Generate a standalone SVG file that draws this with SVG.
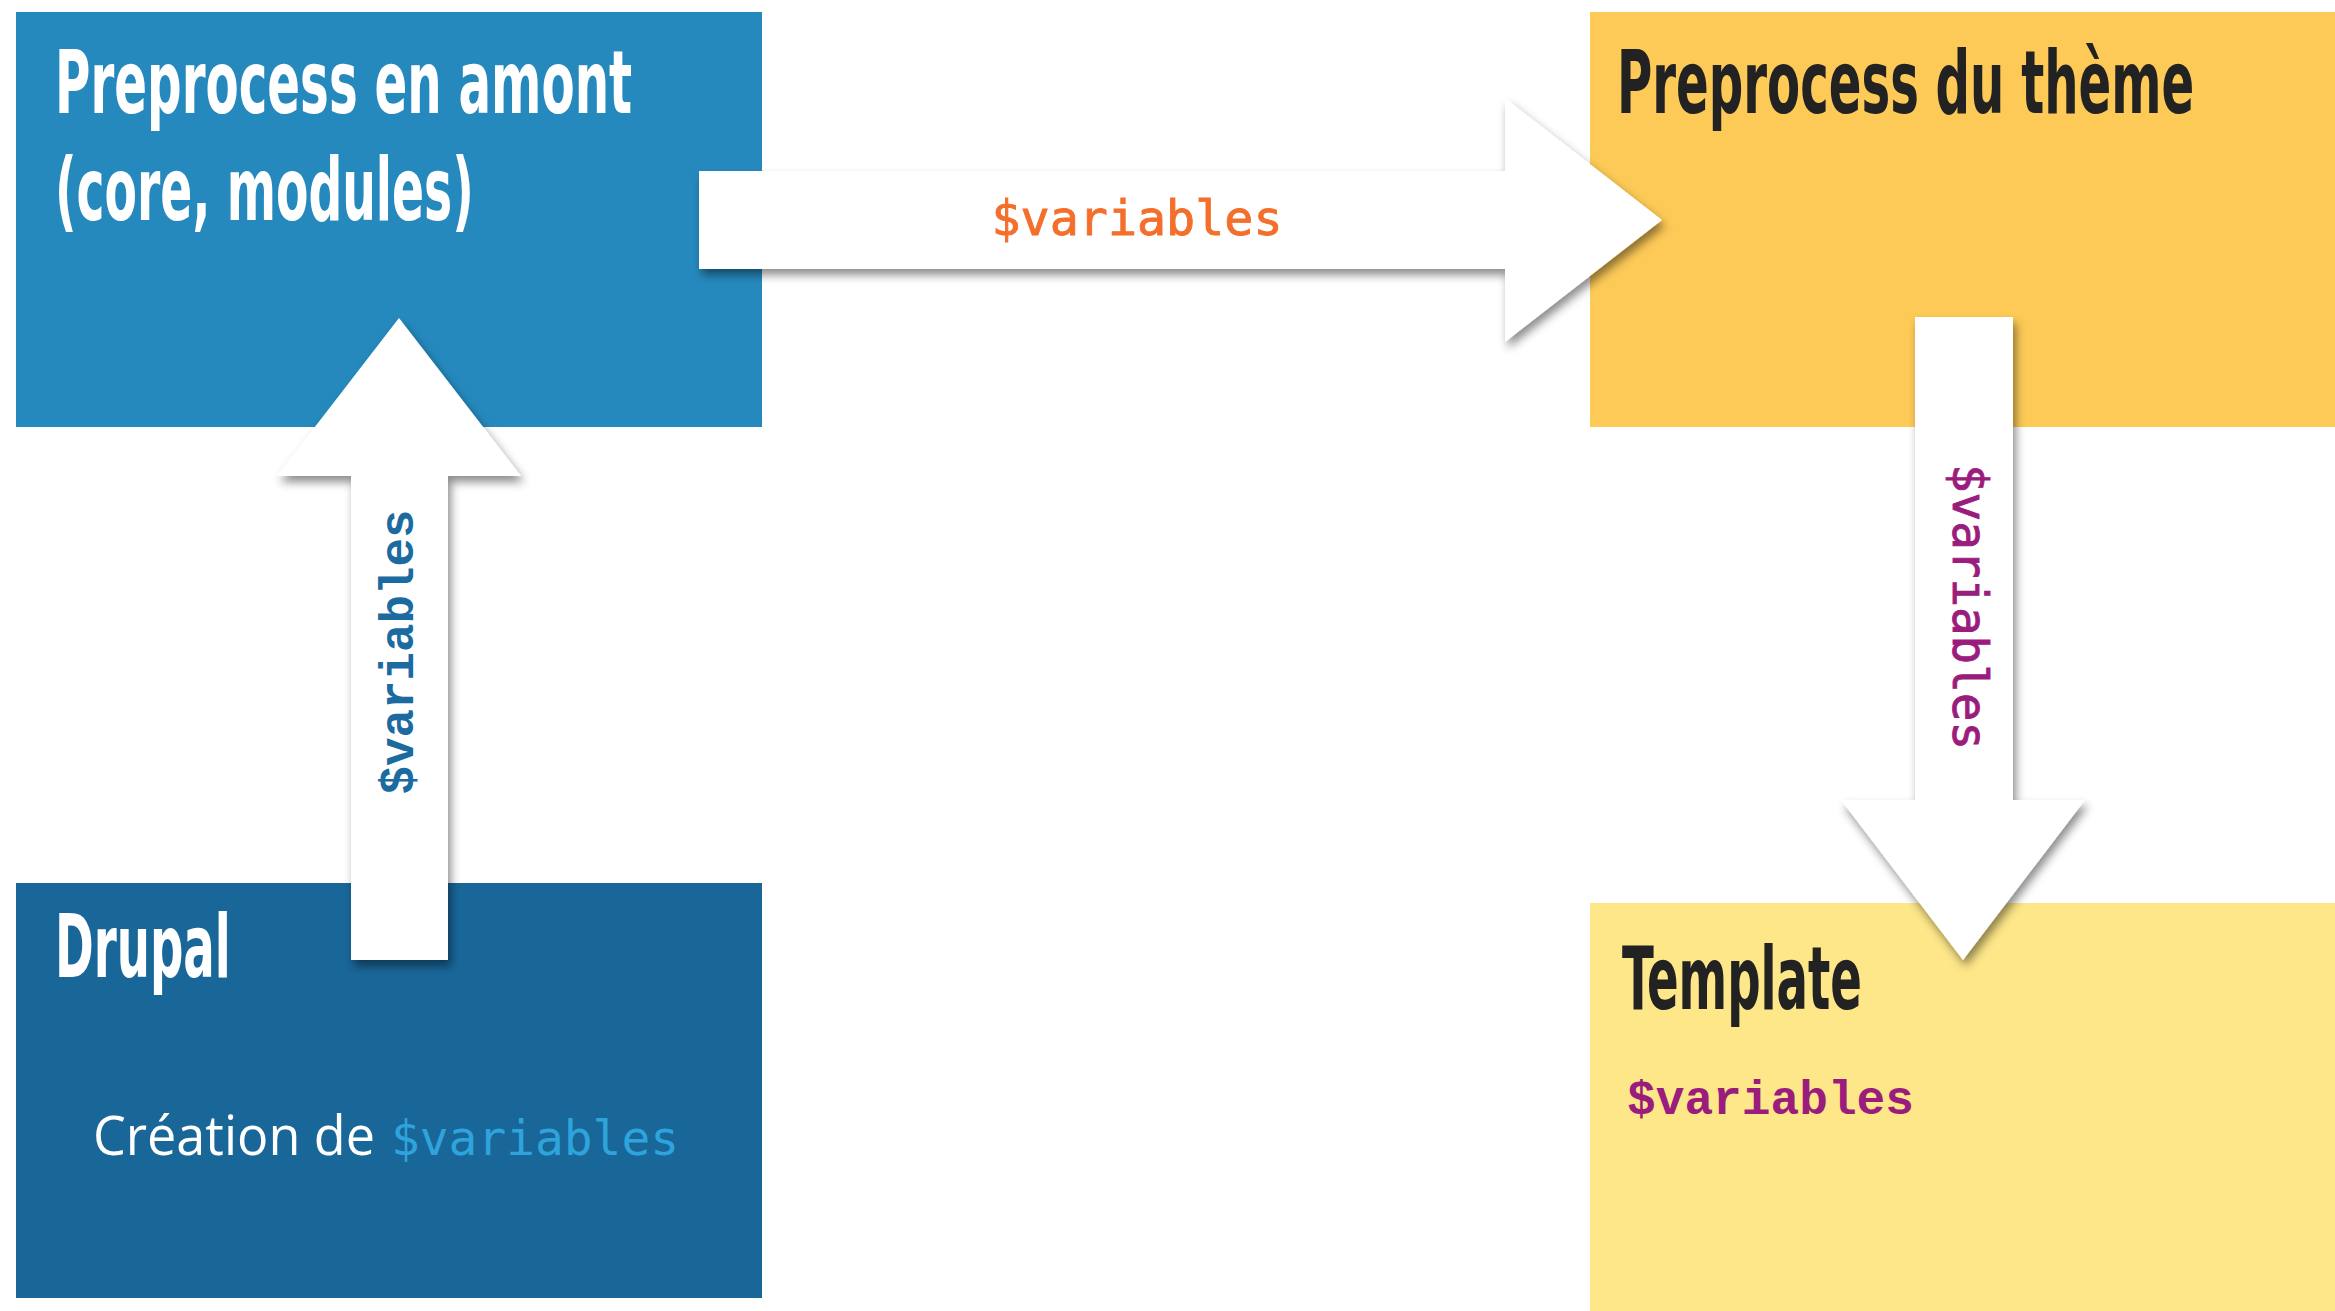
<svg xmlns="http://www.w3.org/2000/svg" width="2335" height="1311" viewBox="0 0 2335 1311">
  <defs>
    <filter id="shadow" x="-20%" y="-20%" width="140%" height="140%">
      <feDropShadow dx="3" dy="6" stdDeviation="5" flood-color="#000" flood-opacity="0.45"/>
    </filter>
  </defs>
  <style>
    .title { font-family: "Liberation Sans Narrow", "DejaVu Sans Condensed", "Liberation Sans", sans-serif; font-weight: bold; font-size: 88px; }
    .light { fill: #ffffff; }
    .dark { fill: #222222; }
    .mono { font-family: "DejaVu Sans Mono", "Liberation Mono", monospace; font-size: 48px; }
    .thick { stroke-width: 0.9px; }
    .courier { font-family: "Liberation Mono", "Courier New", monospace; font-weight: bold; font-size: 48px; }
    .arrow { fill: #ffffff; filter: url(#shadow); }
  </style>
  <rect width="2335" height="1311" fill="#ffffff"/>

  <g id="node-preprocess-amont">
    <rect x="16" y="12" width="746" height="415" fill="#2589bd"/>
    <text class="title light" transform="translate(55,113) scale(0.6,1)" x="0" y="0" textLength="962" lengthAdjust="spacingAndGlyphs">Preprocess en amont</text>
    <text class="title light" transform="translate(55,220) scale(0.6,1)" x="0" y="0" textLength="698" lengthAdjust="spacingAndGlyphs">(core, modules)</text>
  </g>

  <g id="node-drupal">
    <rect x="16" y="883" width="746" height="415" fill="#196699"/>
    <text class="title light" transform="translate(55,977) scale(0.6,1)" x="0" y="0" textLength="293" lengthAdjust="spacingAndGlyphs">Drupal</text>
    <text x="93" y="1155" font-family="'Open Sans', 'Liberation Sans', sans-serif" font-size="54" fill="#ffffff" textLength="282" lengthAdjust="spacingAndGlyphs">Création de</text>
    <text class="mono" x="391" y="1155" fill="#2fa3dc" textLength="288" lengthAdjust="spacingAndGlyphs">$variables</text>
  </g>

  <g id="node-preprocess-theme">
    <rect x="1590" y="12" width="745" height="415" fill="#fdca57"/>
    <text class="title dark" transform="translate(1617,113) scale(0.6,1)" x="0" y="0" textLength="962" lengthAdjust="spacingAndGlyphs">Preprocess du thème</text>
  </g>

  <g id="node-template">
    <rect x="1590" y="903" width="745" height="408" fill="#fee789"/>
    <text class="title dark" transform="translate(1622,1009) scale(0.6,1)" x="0" y="0" textLength="400" lengthAdjust="spacingAndGlyphs">Template</text>
    <text class="courier" x="1627" y="1114" fill="#9a1c7c" textLength="287" lengthAdjust="spacingAndGlyphs">$variables</text>
  </g>

  <g id="connectors">
    <g id="arrow-drupal-to-amont">
      <polygon class="arrow" points="351,960 351,476 277,476 399,318 521,476 448,476 448,960"/>
      <text class="courier" transform="translate(413,652) rotate(-90)" x="0" y="0" text-anchor="middle" fill="#1b6aa0" textLength="285" lengthAdjust="spacingAndGlyphs">$variables</text>
    </g>
    <g id="arrow-amont-to-theme">
      <polygon class="arrow" points="699,171 1505,171 1505,98 1662,220 1505,342 1505,269 699,269"/>
      <text class="mono thick" x="1137" y="235" text-anchor="middle" fill="#f36f2b" stroke="#f36f2b" textLength="291" lengthAdjust="spacingAndGlyphs">$variables</text>
    </g>
    <g id="arrow-theme-to-template">
      <polygon class="arrow" points="1915,317 2013,317 2013,800 2085,800 1963,960 1841,800 1915,800"/>
      <text class="mono thick" transform="translate(1953,607) rotate(90)" x="0" y="0" text-anchor="middle" fill="#9a1c7c" stroke="#9a1c7c" textLength="286" lengthAdjust="spacingAndGlyphs">$variables</text>
    </g>
  </g>
</svg>
